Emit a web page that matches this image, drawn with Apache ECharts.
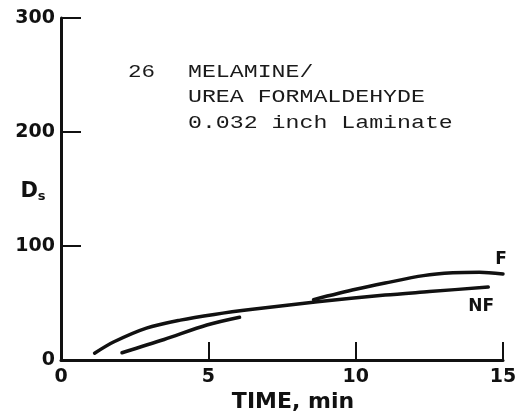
<!DOCTYPE html>
<html><head><meta charset="utf-8">
<script src="https://cdn.jsdelivr.net/npm/echarts@6/dist/echarts.min.js"></script>
<style>html,body{margin:0;padding:0;background:#fff}#c{width:522px;height:415px}</style>
</head><body><div id="c"></div>
<script>
// Data
const nfTime = [1.14, 1.8, 2.9, 4.05, 5.2, 6.5, 8.7, 11.0, 12.5, 14.5];
const nfDs   = [6, 16, 28, 35, 40, 44.5, 51, 57, 60, 64];
const fTime  = [2.07, 3.5, 4.95, 6.06, null, 8.57, 10.0, 11.0, 12.3, 13.3, 14.2, 15.0];
const fDs    = [6.4, 18, 30.7, 37.5, null, 53, 62, 67.5, 74, 76.5, 77, 75.5];
const xTicks = [0, 5, 10, 15];
const yTicks = [0, 100, 200, 300];
const noteLines = ['MELAMINE/', 'UREA FORMALDEHYDE', '0.032 inch Laminate'];
const noteNum = '26';

const pairs = (xs, ys) => xs.map((x, i) => (x === null ? [null, null] : [x, ys[i]]));

const chart = echarts.init(document.getElementById('c'), null, {renderer: 'canvas'});
const lblFont = {color: '#111', fontFamily: 'DejaVu Sans', fontWeight: 'bold', fontSize: 19};
const mono = {fontFamily: 'Liberation Mono', fontSize: 18, fill: '#1a1a1a'};
const graphics = [
  {type: 'text', x: 128, y: 72, scaleX: 1.25, style: Object.assign({text: noteNum, verticalAlign: 'middle'}, mono)}
];
noteLines.forEach((t, i) => graphics.push({
  type: 'text', x: 188, y: 72 + i * 25.5, scaleX: 1.29,
  style: Object.assign({text: t, verticalAlign: 'middle'}, mono)
}));

chart.setOption({
  backgroundColor: '#fff',
  animation: false,
  grid: {left: 61, right: 19, top: 18, bottom: 55, containLabel: false, outerBoundsMode: 'none'},
  xAxis: {
    type: 'value', min: 0, max: 15, interval: 5,
    name: 'TIME, min', nameLocation: 'middle', nameGap: 31, nameMoveOverlap: false,
    nameTextStyle: {color: '#111', fontFamily: 'DejaVu Sans', fontWeight: 'bold', fontSize: 22, padding: [0, 0, 0, 22]},
    axisLine: {show: true, lineStyle: {color: '#111', width: 3}},
    axisTick: {show: true, inside: true, length: 18, lineStyle: {color: '#111', width: 2}},
    axisLabel: Object.assign({margin: 8, formatter: v => xTicks.includes(v) ? String(v) : ''}, lblFont),
    splitLine: {show: false}
  },
  yAxis: {
    type: 'value', min: 0, max: 300, interval: 100,
    name: '{d|D}{s|s}', nameLocation: 'middle', nameRotate: 0, nameGap: 28, nameMoveOverlap: false,
    nameTextStyle: {align: 'center', verticalAlign: 'middle', padding: [6, 0, 0, 0], rich: {
      d: {color: '#111', fontFamily: 'DejaVu Sans', fontWeight: 'bold', fontSize: 21},
      s: {color: '#111', fontFamily: 'DejaVu Sans', fontWeight: 'bold', fontSize: 13, padding: [10, 0, 0, 0]}
    }},
    axisLine: {show: true, lineStyle: {color: '#111', width: 3}},
    axisTick: {show: true, inside: true, length: 20, lineStyle: {color: '#111', width: 2}},
    axisLabel: Object.assign({margin: 6, formatter: v => yTicks.includes(v) ? String(v) : ''}, lblFont),
    splitLine: {show: false}
  },
  graphic: graphics,
  series: [
    {
      name: 'NF', type: 'line', data: pairs(nfTime, nfDs), smooth: 0.3, showSymbol: false,
      lineStyle: {color: '#111', width: 3.5, cap: 'round'},
      endLabel: {show: true, formatter: 'NF', align: 'center', verticalAlign: 'middle', offset: [-15, 20],
        color: '#111', fontFamily: 'DejaVu Sans', fontWeight: 'bold', fontSize: 17}
    },
    {
      name: 'F', type: 'line', data: pairs(fTime, fDs), smooth: 0.3, showSymbol: false, connectNulls: false,
      lineStyle: {color: '#111', width: 3.5, cap: 'round'},
      endLabel: {show: true, formatter: 'F', align: 'center', verticalAlign: 'middle', offset: [-10, -14],
        color: '#111', fontFamily: 'DejaVu Sans', fontWeight: 'bold', fontSize: 17}
    }
  ]
});
</script></body></html>
